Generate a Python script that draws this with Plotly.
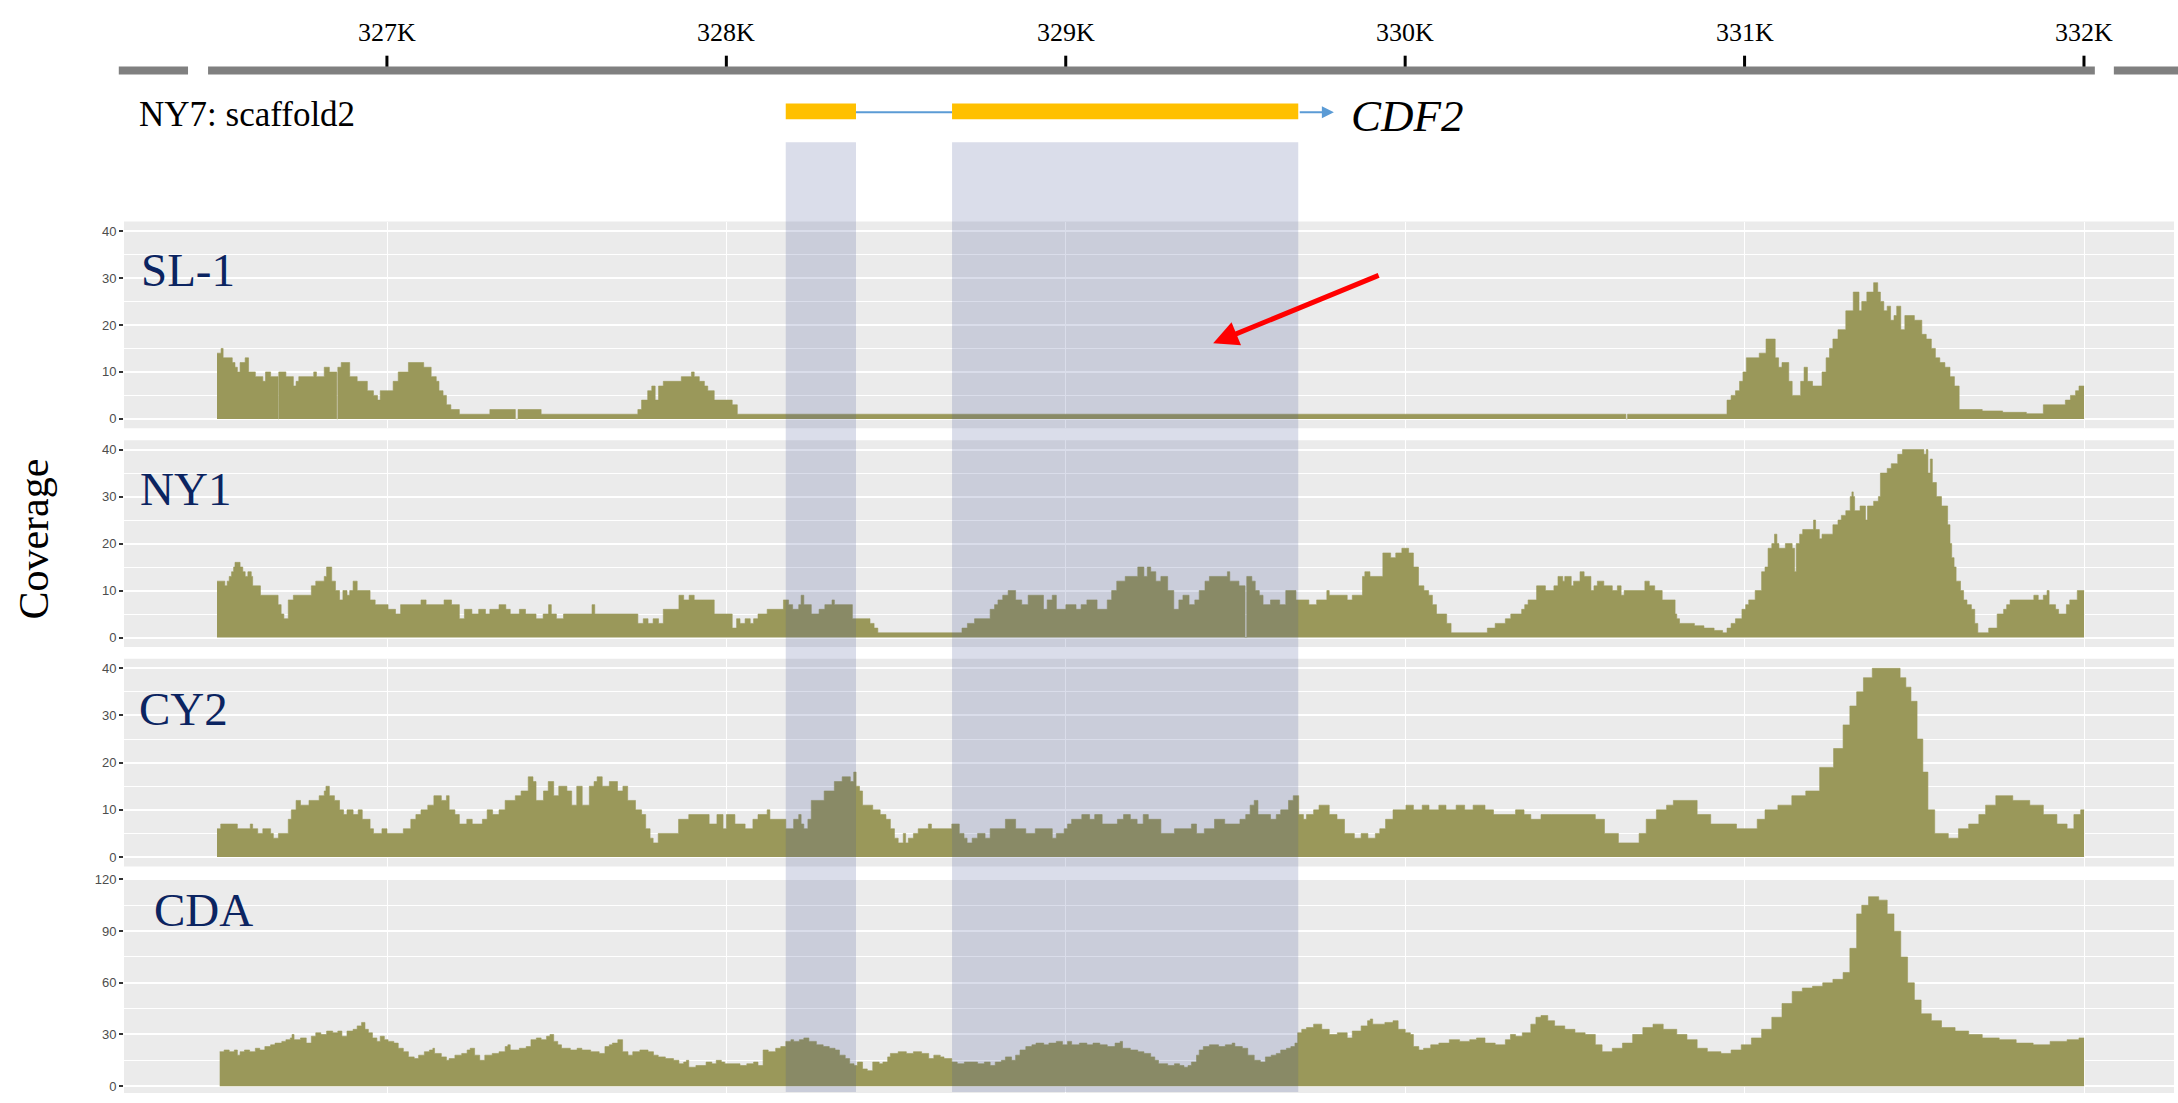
import plotly.graph_objects as go

W, H = 2178, 1103

# ---------------------------------------------------------------------------
# Read-depth runs for each sample: (position in bp, depth from that position on)
# ---------------------------------------------------------------------------
SL1_RUNS = [
    (326499, 14), (326511, 15), (326517, 13), (326544, 12), (326552, 11), (326559, 10),
    (326567, 12), (326582, 13), (326592, 10), (326612, 9), (326634, 8), (326642, 10),
    (326657, 9), (326679, 0), (326681, 10), (326702, 9), (326724, 7), (326732, 8),
    (326740, 9), (326784, 10), (326792, 9), (326815, 11), (326830, 10), (326852, 0),
    (326855, 11), (326865, 12), (326890, 9), (326912, 8), (326942, 6), (326960, 5),
    (326972, 4), (326980, 6), (327018, 8), (327033, 10), (327063, 12), (327108, 11),
    (327130, 9), (327145, 8), (327153, 6), (327165, 5), (327175, 3), (327188, 2),
    (327213, 1), (327303, 2), (327378, 0), (327386, 2), (327454, 1), (327739, 2),
    (327750, 4), (327768, 6), (327780, 7), (327790, 4), (327800, 7), (327814, 8),
    (327867, 9), (327897, 10), (327905, 9), (327920, 8), (327935, 7), (327945, 6),
    (327964, 4), (328017, 3), (328032, 1), (330650, 0), (330655, 1), (330948, 4),
    (330960, 5), (330973, 6), (330985, 8), (330995, 10), (331005, 13), (331043, 14),
    (331063, 17), (331090, 13), (331100, 11), (331110, 12), (331130, 8), (331140, 5),
    (331165, 8), (331175, 11), (331185, 8), (331200, 7), (331228, 10), (331240, 13),
    (331250, 15), (331260, 17), (331275, 19), (331298, 23), (331320, 27), (331337, 23),
    (331345, 25), (331360, 27), (331380, 29), (331392, 27), (331400, 25), (331410, 23),
    (331420, 24), (331430, 21), (331440, 22), (331448, 24), (331460, 19), (331472, 22),
    (331500, 21), (331522, 18), (331535, 17), (331550, 15), (331562, 13), (331575, 12),
    (331590, 11), (331605, 9), (331618, 7), (331632, 2), (331700, 1.7), (331760, 1.4),
    (331830, 1.1), (331880, 3), (331945, 4), (331960, 5), (331975, 6), (331985, 7),
]

NY1_RUNS = [
    (326499, 12), (326522, 11), (326529, 12), (326535, 13), (326542, 14), (326548, 15),
    (326552, 16), (326567, 15), (326575, 14), (326582, 13), (326590, 14), (326600, 13),
    (326604, 11), (326627, 9), (326679, 7), (326688, 5), (326696, 4), (326709, 8),
    (326724, 9), (326777, 11), (326790, 12), (326815, 13), (326822, 15), (326837, 12),
    (326848, 10), (326860, 8), (326870, 10), (326882, 9), (326890, 10), (326900, 12),
    (326912, 10), (326950, 8), (326965, 7), (327003, 6), (327025, 5), (327040, 7),
    (327100, 8), (327115, 7), (327168, 8), (327190, 7), (327213, 4), (327228, 6),
    (327250, 5), (327270, 6), (327290, 5), (327303, 6), (327330, 7), (327350, 6),
    (327363, 5), (327390, 6), (327408, 5), (327439, 4), (327460, 5), (327476, 7),
    (327484, 5), (327499, 4), (327520, 5), (327604, 7), (327612, 5), (327739, 3),
    (327755, 4), (327769, 3), (327784, 4), (327800, 3), (327814, 6), (327860, 9),
    (327874, 8), (327890, 9), (327905, 8), (327930, 8), (327964, 5), (328017, 2),
    (328030, 4), (328040, 3), (328055, 4), (328070, 3), (328080, 4), (328093, 5),
    (328120, 6), (328168, 8), (328183, 7), (328195, 6), (328213, 7), (328220, 9),
    (328228, 7), (328250, 5), (328273, 6), (328290, 7), (328311, 8), (328318, 7),
    (328371, 4), (328423, 3), (328435, 2), (328446, 1), (328694, 2), (328710, 3),
    (328731, 4), (328777, 6), (328790, 7), (328800, 8), (328814, 9), (328830, 10),
    (328852, 8), (328870, 7), (328889, 9), (328934, 6), (328945, 8), (328960, 9),
    (328972, 6), (329000, 7), (329030, 6), (329045, 7), (329062, 8), (329092, 6),
    (329122, 8), (329135, 10), (329150, 12), (329175, 13), (329212, 15), (329230, 13),
    (329240, 15), (329250, 14), (329265, 12), (329280, 13), (329300, 10), (329318, 6),
    (329333, 8), (329345, 9), (329363, 7), (329380, 8), (329393, 10), (329410, 12),
    (329423, 13), (329476, 14), (329483, 12), (329510, 11), (329528, 0), (329533, 13),
    (329548, 12), (329558, 10), (329570, 9), (329581, 7), (329603, 8), (329630, 7),
    (329648, 10), (329678, 8), (329716, 7), (329739, 8), (329769, 10), (329776, 9),
    (329829, 8), (329844, 9), (329874, 13), (329881, 14), (329896, 13), (329934, 18),
    (329957, 17), (329972, 18), (329990, 19), (330010, 18), (330024, 15), (330039, 11),
    (330055, 10), (330069, 9), (330080, 7), (330092, 5), (330122, 3), (330135, 1),
    (330242, 2), (330265, 3), (330295, 4), (330311, 5), (330343, 6), (330352, 7),
    (330362, 8), (330387, 11), (330413, 10), (330438, 11), (330450, 13), (330464, 12),
    (330470, 13), (330489, 11), (330496, 12), (330515, 14), (330527, 13), (330547, 10),
    (330556, 11), (330566, 12), (330585, 11), (330610, 10), (330625, 11), (330636, 9),
    (330645, 10), (330706, 12), (330719, 11), (330735, 10), (330757, 8), (330795, 5),
    (330800, 4), (330808, 3), (330852, 2.5), (330880, 2), (330910, 1.5), (330935, 1),
    (330948, 2), (330960, 3), (330973, 4), (330992, 6), (331003, 7), (331012, 8),
    (331031, 10), (331050, 14), (331060, 15), (331069, 19), (331080, 20), (331088, 22),
    (331095, 20), (331101, 19), (331120, 20), (331140, 19), (331147, 14), (331152, 20),
    (331162, 22), (331171, 23), (331203, 25), (331209, 23), (331220, 21), (331228, 22),
    (331260, 24), (331275, 25), (331285, 26), (331298, 27), (331311, 30), (331316, 31),
    (331320, 30), (331324, 27), (331340, 28), (331356, 25), (331362, 28), (331380, 29),
    (331394, 30), (331400, 35), (331420, 36), (331432, 37), (331451, 39), (331465, 40),
    (331528, 39), (331535, 40), (331540, 35), (331547, 38), (331553, 33), (331565, 30),
    (331580, 28), (331598, 24), (331605, 20), (331610, 17), (331617, 15), (331623, 12),
    (331636, 10), (331645, 8), (331655, 7), (331668, 6), (331678, 3), (331687, 1),
    (331719, 2), (331744, 5), (331763, 6), (331772, 7), (331782, 8), (331852, 9),
    (331865, 8), (331880, 9), (331891, 10), (331897, 7), (331916, 6), (331925, 5),
    (331948, 7), (331958, 8), (331980, 10),
]

CY2_RUNS = [
    (326499, 6), (326510, 7), (326559, 6), (326597, 7), (326604, 6), (326619, 5),
    (326634, 6), (326657, 5), (326665, 4), (326680, 5), (326709, 8), (326718, 10),
    (326732, 12), (326745, 11), (326770, 12), (326800, 13), (326815, 14), (326820, 15),
    (326830, 13), (326845, 12), (326860, 10), (326872, 9), (326882, 10), (326900, 9),
    (326915, 10), (326927, 8), (326950, 6), (326960, 5), (326985, 6), (327000, 5),
    (327048, 6), (327070, 8), (327085, 9), (327100, 10), (327120, 11), (327138, 13),
    (327160, 12), (327175, 13), (327183, 10), (327200, 9), (327213, 7), (327235, 8),
    (327251, 7), (327281, 8), (327295, 10), (327311, 9), (327330, 10), (327348, 12),
    (327378, 13), (327395, 14), (327416, 17), (327430, 16), (327439, 12), (327461, 14),
    (327475, 16), (327491, 13), (327506, 15), (327530, 14), (327544, 11), (327559, 15),
    (327575, 11), (327596, 15), (327610, 16), (327619, 17), (327634, 15), (327655, 16),
    (327679, 14), (327695, 15), (327709, 12), (327732, 10), (327750, 9), (327762, 6),
    (327775, 4), (327784, 3), (327799, 5), (327859, 8), (327889, 9), (327949, 7),
    (327972, 9), (327990, 6), (328000, 9), (328025, 7), (328055, 6), (328078, 8),
    (328093, 9), (328120, 10), (328128, 8), (328145, 8), (328175, 6), (328198, 8),
    (328213, 9), (328220, 7), (328228, 6), (328240, 8), (328250, 12), (328288, 14),
    (328318, 16), (328341, 17), (328365, 16), (328375, 18), (328382, 15), (328392, 14),
    (328401, 11), (328431, 10), (328453, 9), (328470, 8), (328483, 6), (328495, 4),
    (328506, 3), (328521, 5), (328528, 3), (328536, 4), (328551, 5), (328565, 6),
    (328595, 7), (328604, 6), (328664, 7), (328686, 5), (328700, 4), (328709, 3),
    (328724, 4), (328740, 5), (328762, 4), (328777, 6), (328822, 8), (328852, 6),
    (328882, 5), (328910, 6), (328960, 4), (328972, 5), (328995, 6), (329005, 7),
    (329017, 8), (329047, 9), (329070, 8), (329085, 9), (329107, 7), (329152, 8),
    (329170, 9), (329190, 8), (329210, 7), (329228, 9), (329243, 8), (329280, 5),
    (329320, 6), (329370, 7), (329385, 5), (329408, 6), (329438, 8), (329468, 7),
    (329513, 8), (329530, 9), (329543, 11), (329555, 12), (329566, 9), (329603, 8),
    (329620, 9), (329633, 10), (329656, 12), (329670, 13), (329686, 9), (329700, 8),
    (329709, 9), (329730, 10), (329746, 11), (329776, 9), (329799, 8), (329821, 5),
    (329850, 4), (329870, 5), (329890, 4), (329912, 5), (329925, 6), (329942, 8),
    (329964, 10), (330002, 11), (330024, 10), (330050, 11), (330070, 10), (330099, 11),
    (330120, 10), (330150, 11), (330175, 10), (330200, 11), (330235, 10), (330260, 9),
    (330325, 10), (330350, 9), (330370, 8), (330400, 9), (330430, 9), (330560, 8),
    (330587, 5), (330628, 3), (330689, 5), (330710, 8), (330740, 10), (330770, 11),
    (330790, 12), (330860, 9), (330900, 7), (330976, 6), (331037, 8), (331060, 10),
    (331098, 11), (331139, 13), (331180, 14), (331221, 19), (331262, 23), (331290, 28),
    (331310, 32), (331330, 35), (331350, 38), (331376, 40), (331458, 38), (331475, 36),
    (331490, 33), (331508, 25), (331525, 18), (331540, 10), (331560, 5), (331600, 4),
    (331630, 6), (331660, 7), (331690, 9), (331710, 11), (331740, 13), (331790, 12),
    (331840, 11), (331880, 9), (331920, 7), (331950, 6), (331970, 9), (331990, 10),
]

CDA_RUNS = [
    (326507, 20), (326520, 21), (326535, 20), (326550, 21), (326559, 18), (326567, 20),
    (326580, 21), (326595, 20), (326612, 22), (326625, 21), (326640, 23), (326657, 24),
    (326670, 25), (326690, 26), (326702, 27), (326715, 28), (326720, 30), (326726, 27),
    (326745, 28), (326762, 25), (326777, 29), (326790, 31), (326805, 30), (326822, 32),
    (326840, 31), (326855, 32), (326867, 29), (326882, 32), (326900, 33), (326912, 35),
    (326925, 37), (326935, 33), (326945, 31), (326957, 28), (326970, 26), (326980, 29),
    (326992, 27), (327003, 26), (327020, 25), (327033, 22), (327048, 20), (327063, 17),
    (327080, 16), (327093, 18), (327110, 20), (327125, 21), (327135, 22), (327140, 19),
    (327160, 17), (327175, 15), (327183, 16), (327200, 18), (327220, 19), (327236, 21),
    (327245, 22), (327258, 18), (327273, 15), (327288, 18), (327310, 19), (327330, 20),
    (327348, 23), (327356, 24), (327363, 21), (327390, 22), (327410, 23), (327424, 27),
    (327440, 28), (327454, 27), (327470, 29), (327480, 30), (327491, 26), (327503, 24),
    (327514, 22), (327540, 21), (327560, 22), (327574, 21), (327600, 20), (327625, 19),
    (327642, 23), (327655, 24), (327664, 25), (327680, 27), (327694, 20), (327710, 18),
    (327724, 20), (327745, 21), (327769, 20), (327785, 18), (327799, 17), (327820, 16),
    (327844, 15), (327860, 13), (327874, 14), (327882, 15), (327889, 11), (327910, 12),
    (327940, 14), (327957, 13), (327970, 15), (327985, 14), (327995, 13), (328040, 12),
    (328060, 13), (328080, 14), (328093, 12), (328108, 21), (328123, 20), (328145, 22),
    (328160, 23), (328175, 26), (328190, 27), (328198, 26), (328215, 27), (328228, 28),
    (328243, 26), (328265, 24), (328285, 23), (328303, 22), (328320, 21), (328333, 18),
    (328350, 16), (328363, 13), (328376, 12), (328386, 14), (328401, 10), (328415, 9),
    (328431, 14), (328450, 13), (328461, 14), (328475, 17), (328483, 19), (328506, 20),
    (328530, 19), (328551, 20), (328575, 19), (328596, 16), (328611, 18), (328630, 17),
    (328641, 16), (328664, 14), (328680, 13), (328701, 14), (328740, 13), (328760, 14),
    (328777, 12), (328792, 14), (328810, 15), (328822, 17), (328840, 15), (328852, 18),
    (328865, 21), (328882, 23), (328900, 24), (328912, 25), (328935, 24), (328950, 25),
    (328972, 26), (328990, 24), (329005, 26), (329017, 24), (329040, 25), (329062, 24),
    (329080, 25), (329100, 24), (329122, 23), (329145, 25), (329160, 26), (329167, 22),
    (329190, 21), (329212, 20), (329230, 19), (329250, 17), (329262, 15), (329273, 13),
    (329300, 12), (329320, 13), (329335, 12), (329348, 11), (329360, 12), (329370, 14),
    (329385, 18), (329393, 21), (329405, 23), (329423, 24), (329450, 23), (329470, 24),
    (329490, 25), (329498, 23), (329520, 22), (329536, 18), (329555, 15), (329573, 14),
    (329588, 17), (329605, 18), (329620, 19), (329633, 21), (329650, 22), (329663, 23),
    (329675, 25), (329683, 31), (329695, 33), (329709, 34), (329730, 36), (329754, 33),
    (329776, 30), (329800, 31), (329829, 28), (329844, 32), (329870, 35), (329889, 38),
    (329897, 39), (329904, 36), (329940, 37), (329964, 38), (329979, 33), (330000, 31),
    (330015, 30), (330024, 23), (330040, 21), (330054, 22), (330075, 24), (330099, 25),
    (330130, 27), (330160, 26), (330190, 27), (330210, 28), (330235, 25), (330265, 24),
    (330295, 27), (330310, 30), (330325, 29), (330345, 31), (330370, 36), (330385, 40),
    (330400, 41), (330420, 38), (330440, 35), (330470, 33), (330500, 31), (330530, 30),
    (330560, 24), (330580, 20), (330610, 22), (330640, 25), (330670, 30), (330700, 34),
    (330730, 36), (330760, 33), (330800, 30), (330830, 27), (330860, 22), (330890, 20),
    (330930, 19), (330960, 21), (330990, 24), (331020, 28), (331050, 33), (331080, 40),
    (331110, 48), (331140, 55), (331170, 57), (331200, 58), (331230, 60), (331260, 62),
    (331290, 66), (331310, 80), (331330, 100), (331345, 105), (331365, 110), (331395, 108),
    (331420, 100), (331440, 90), (331460, 75), (331480, 60), (331500, 50), (331520, 42),
    (331550, 38), (331580, 34), (331620, 32), (331660, 30), (331700, 28), (331750, 27),
    (331800, 25), (331850, 24), (331900, 26), (331950, 27), (331985, 28),
]

SAMPLES = ["SL-1", "NY1", "CY2", "CDA"]
SAMPLE_RUNS = [SL1_RUNS, NY1_RUNS, CY2_RUNS, CDA_RUNS]
TRACK_END = 332000

# genome ruler on top
RULER_TICKS = [327000, 328000, 329000, 330000, 331000, 332000]
RULER_LABELS = ["327K", "328K", "329K", "330K", "331K", "332K"]
RULER_SEGMENTS = [(326210, 326414), (326473, 332032), (332088, 332277)]

# CDF2 gene model (exon spans, also highlighted across the coverage panels)
EXONS = [(328175, 328382), (328665, 329685)]
GENE_NAME = "CDF2"
SCAFFOLD = "NY7: scaffold2"

# y scales of the coverage panels
Y_RANGES = [(-2, 42), (-2, 42), (-2, 42), (-4, 120.6)]
Y_TICKS = [[0, 10, 20, 30, 40]] * 3 + [[0, 30, 60, 90, 120]]
Y_MINOR = [[5, 15, 25, 35]] * 3 + [[15, 45, 75, 105]]

# ---------------------------------------------------------------------------
# geometry / style
# ---------------------------------------------------------------------------
PANEL_LEFT, PANEL_RIGHT = 124, 2174
PANEL_ROWS = [(217, 425), (437, 645), (657, 866), (878, 1094)]
X_RANGE = [326225, 332265]
RULER_RANGE = [325860, 332277]

OLIVE = "#9A985A"
PANEL_BG = "#EBEBEB"
NAVY = "#0B2461"
SERIF = "Liberation Serif"
SANS = "Liberation Sans"
HILITE = "rgba(70,84,150,0.20)"


def py(p):
    return 1 - p / H


fig = go.Figure()
layout = dict(
    width=W, height=H, margin=dict(l=0, r=0, t=0, b=0),
    paper_bgcolor="white", plot_bgcolor="rgba(0,0,0,0)", showlegend=False,
)
shapes, annotations = [], []

xdom = [PANEL_LEFT / W, PANEL_RIGHT / W]
for i, (name, runs) in enumerate(zip(SAMPLES, SAMPLE_RUNS)):
    n = "" if i == 0 else str(i + 1)
    xid, yid = "x" + n, "y" + n
    xs = [p for p, _ in runs] + [TRACK_END]
    ys = [c for _, c in runs] + [runs[-1][1]]
    fig.add_trace(go.Scatter(
        x=xs, y=ys, mode="lines", line=dict(shape="hv", width=0.6, color=OLIVE),
        fill="tozeroy", fillcolor=OLIVE, xaxis=xid, yaxis=yid, hoverinfo="skip",
    ))
    top, bot = PANEL_ROWS[i]
    layout["xaxis" + n] = dict(
        domain=xdom, range=X_RANGE, anchor=yid, showticklabels=False, ticks="",
        tickvals=RULER_TICKS, showgrid=True, gridcolor="white", gridwidth=1.4,
        zeroline=False, showline=False, fixedrange=True,
        **({} if i == 0 else {"matches": "x"}),
    )
    layout["yaxis" + n] = dict(
        domain=[py(bot), py(top)], range=list(Y_RANGES[i]), anchor=xid,
        tickvals=Y_TICKS[i], ticks="outside", ticklen=4, tickwidth=1.5,
        tickcolor="#333333", tickfont=dict(family=SANS, size=13, color="#4D4D4D"),
        showgrid=True, gridcolor="white", gridwidth=2, zeroline=False, showline=False,
        minor=dict(tickvals=Y_MINOR[i], showgrid=True, gridcolor="white", gridwidth=1),
        fixedrange=True,
    )
    shapes.append(dict(type="rect", xref=xid + " domain", yref=yid + " domain",
                       x0=0, x1=1, y0=0, y1=1, fillcolor=PANEL_BG, line_width=0,
                       layer="below"))
    label_x = [0.0073, 0.0068, 0.0063, 0.0137][i]
    label_y = [0.767, 0.762, 0.758, 0.852][i]
    annotations.append(dict(
        text=name, xref=xid + " domain", yref=yid + " domain", x=label_x, y=label_y,
        xanchor="left", yanchor="middle", showarrow=False,
        font=dict(family=SERIF, size=47, color=NAVY),
    ))

# ruler axis spanning the whole page width
layout["xaxis5"] = dict(domain=[0, 1], range=RULER_RANGE, anchor="y5", visible=False,
                        fixedrange=True)
layout["yaxis5"] = dict(domain=[py(140), 1], range=[0, 1], anchor="x5", visible=False,
                        fixedrange=True)
fig.add_trace(go.Scatter(x=[], y=[], xaxis="x5", yaxis="y5", hoverinfo="skip"))

for a, b in RULER_SEGMENTS:
    shapes.append(dict(type="line", xref="x5", yref="paper", x0=a, x1=b,
                       y0=py(65), y1=py(65), line=dict(color="#808080", width=8)))
for t, lab in zip(RULER_TICKS, RULER_LABELS):
    shapes.append(dict(type="line", xref="x5", yref="paper", x0=t, x1=t,
                       y0=py(61), y1=py(50), line=dict(color="black", width=3)))
    annotations.append(dict(text=lab, xref="x5", yref="paper", x=t, y=py(27),
                            xanchor="center", yanchor="middle", showarrow=False,
                            font=dict(family=SERIF, size=26, color="black")))

annotations.append(dict(text=SCAFFOLD, xref="paper", yref="paper", x=137 / W, y=py(109),
                        xanchor="left", yanchor="middle", showarrow=False,
                        font=dict(family=SERIF, size=35, color="black")))

# gene model: intron line, exons, strand arrow and name
shapes.append(dict(type="line", xref="x5", yref="paper", x0=EXONS[0][1], x1=EXONS[1][0],
                   y0=py(107), y1=py(107), line=dict(color="#5B9BD5", width=2)))
for a, b in EXONS:
    shapes.append(dict(type="rect", xref="x5", yref="paper", x0=a, x1=b,
                       y0=py(114), y1=py(98), fillcolor="#FFC000", line_width=0))
annotations.append(dict(text="", xref="x5", yref="paper", x=EXONS[1][1] + 105, y=py(107),
                        axref="x5", ayref="pixel", ax=EXONS[1][1], ay=0,
                        showarrow=True, arrowhead=2, arrowsize=1.2, arrowwidth=2,
                        arrowcolor="#5B9BD5", standoff=0))
annotations.append(dict(text="<i>" + GENE_NAME + "</i>", xref="x5", yref="paper",
                        x=EXONS[1][1] + 150, y=py(111), xanchor="left", yanchor="middle",
                        showarrow=False, font=dict(family=SERIF, size=45, color="black")))

# translucent highlight of the exons through all coverage panels
for a, b in EXONS:
    shapes.append(dict(type="rect", xref="x5", yref="paper", x0=a, x1=b,
                       y0=py(1093), y1=py(137), fillcolor=HILITE, line_width=0,
                       layer="above"))

# red arrow pointing at the missing coverage in SL-1
annotations.append(dict(text="", xref="x", yref="y", x=329434, y=16.1,
                        axref="x", ayref="y", ax=329926, ay=30.7, showarrow=True,
                        arrowhead=2, arrowsize=1, arrowwidth=5, arrowcolor="#FF0000",
                        standoff=0))

annotations.append(dict(text="Coverage", xref="paper", yref="paper", x=34 / W, y=py(537),
                        xanchor="center", yanchor="middle", textangle=-90, showarrow=False,
                        font=dict(family=SERIF, size=42, color="black")))

layout["shapes"] = shapes
layout["annotations"] = annotations
fig.update_layout(**layout)
fig.write_html("out.html")
